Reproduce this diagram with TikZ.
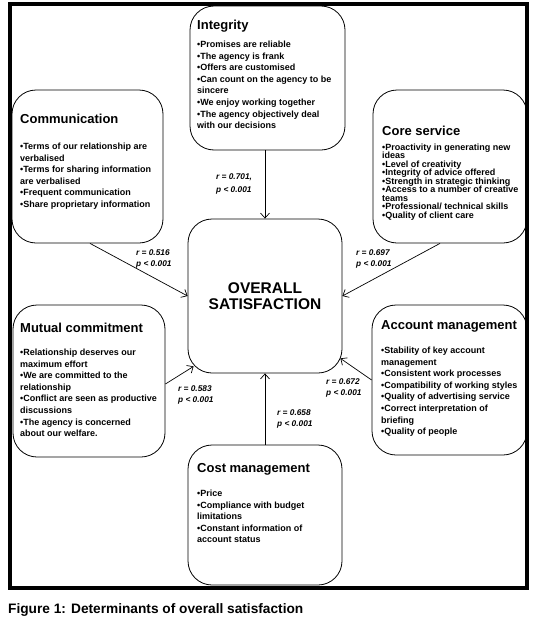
\documentclass[tikz,border=0pt]{standalone}
\usepackage{fontspec}
\setmainfont{Liberation Sans}
\usetikzlibrary{arrows.meta,calc}
\begin{document}
\begin{tikzpicture}[x=1pt,y=-1pt,
  box/.style={draw=black, line width=0.8pt, rounded corners=24pt, inner sep=0pt},
  ttl/.style={anchor=base west, inner sep=0pt, font=\fontsize{13}{14}\selectfont\bfseries},
  items/.style={anchor=north west, inner sep=0pt, align=left, font=\fontsize{9}{11.6}\selectfont\bfseries},
  tightitems/.style={anchor=north west, inner sep=0pt, align=left, font=\fontsize{9}{8.5}\selectfont\bfseries},
  stat/.style={anchor=north west, inner sep=0pt, align=left, font=\fontsize{8.3}{11}\selectfont\bfseries\itshape},
  link/.style={line width=0.7pt, -{Straight Barb[length=5pt,width=9pt]}}]
\useasboundingbox (0,0) rectangle (536,624);

% boxes
\node[box, minimum width=155pt, minimum height=144pt] (integ) at (267.5,78) {};
\node[box, minimum width=151pt, minimum height=153pt] (comm) at (87.5,166.5) {};
\node[box, minimum width=154pt, minimum height=153pt] (core) at (450,166.5) {};
\node[box, minimum width=154pt, minimum height=154pt, align=center,
      font=\fontsize{15.5}{16.5}\selectfont\bfseries] (overall) at (265,296) {OVERALL\\SATISFACTION};
\node[box, minimum width=152pt, minimum height=152pt] (mutual) at (89,381) {};
\node[box, minimum width=155pt, minimum height=150pt] (account) at (449.5,380) {};
\node[box, minimum width=154pt, minimum height=140pt] (cost) at (265,515) {};

% titles
\node[ttl] (integT) at (197,29.5) {Integrity};
\node[ttl] (commT) at (20,123.5) {Communication};
\node[ttl] (coreT) at (382,135.5) {Core service};
\node[ttl] (mutualT) at (20,332.5) {Mutual commitment};
\node[ttl] (accountT) at (381,329.5) {Account management};
\node[ttl] (costT) at (197,472.5) {Cost management};

% item lists
\node[items] (integI) at (197,40.7) {•Promises are reliable\\•The agency is frank\\•Offers are customised\\•Can count on the agency to be\\sincere\\•We enjoy working together\\•The agency objectively deal\\with our decisions};
\node[items] (commI) at (20,142.7) {•Terms of our relationship are\\verbalised\\•Terms for sharing information\\are verbalised\\•Frequent communication\\•Share proprietary information};
\node[tightitems] (coreI) at (382,143.7) {•Proactivity in generating new\\ideas\\•Level of creativity\\•Integrity of advice offered\\•Strength in strategic thinking\\•Access to a number of creative\\teams\\•Professional/ technical skills\\•Quality of client care};
\node[items] (mutualI) at (20,348.7) {•Relationship deserves our\\maximum effort\\•We are committed to the\\relationship\\•Conflict are seen as productive\\discussions\\•The agency is concerned\\about our welfare.};
\node[items] (accountI) at (381,346.7) {•Stability of key account\\management\\•Consistent work processes\\•Compatibility of working styles\\•Quality of advertising service\\•Correct interpretation of\\briefing\\•Quality of people};
\node[items] (costI) at (197,489.7) {•Price\\•Compliance with budget\\limitations\\•Constant information of\\account status};

% connectors
\draw[link] (integ.south -| overall.north) -- (overall.north);
\draw[link] ([xshift=2.5pt]comm.south) -- (overall.west);
\draw[link] ([xshift=-10pt]core.south) -- (overall.east);
\draw[link] ([yshift=-3pt]mutual.east) -- ($(overall.south west)+(6,-7)$);
\draw[link] (account.west) -- ($(overall.south east)+(-2,-15)$);
\draw[link] (cost.north) -- (overall.south);

% statistics
\node[stat, font=\fontsize{8.3}{13}\selectfont\bfseries\itshape] (s701) at (216,174) {r = 0.701,\\p < 0.001};
\node[stat] (s516) at (136,250) {r = 0.516\\p < 0.001};
\node[stat] (s697) at (356,250) {r = 0.697\\p < 0.001};
\node[stat] (s583) at (178,385) {r = 0.583\\p < 0.001};
\node[stat] (s672) at (326,378) {r = 0.672\\p < 0.001};
\node[stat] (s658) at (277,409) {r = 0.658\\p < 0.001};

% frame
\draw[line width=4pt] (10,4) rectangle (527,588);

% caption
\node[anchor=base west, inner sep=0pt, font=\fontsize{13.7}{15}\selectfont\bfseries] (caption) at (8,613) {Figure 1: Determinants of overall satisfaction};
\end{tikzpicture}
\end{document}
